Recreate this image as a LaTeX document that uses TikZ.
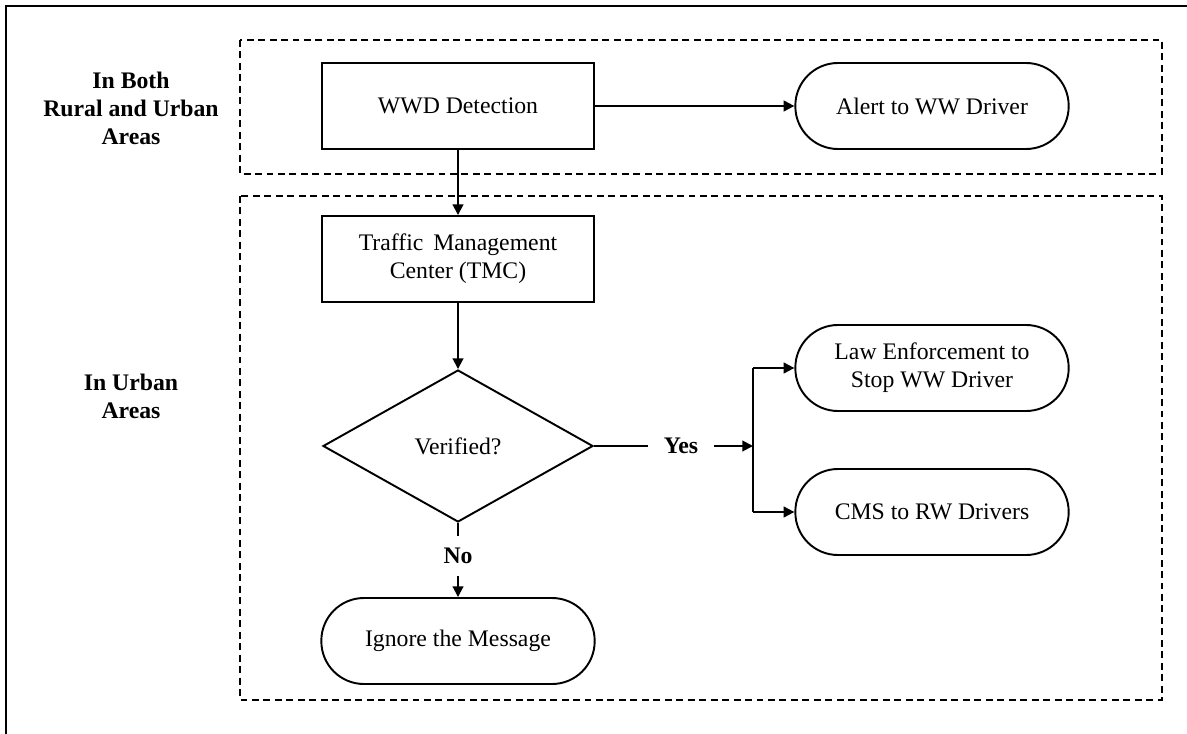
\documentclass[tikz,border=0pt]{standalone}
\usepackage{fontspec}
\setmainfont{Liberation Serif}
\usetikzlibrary{shapes.geometric,arrows.meta}

\tikzset{
  base/.style={draw=black, line width=1.45pt, align=center, inner sep=0pt,
               font=\fontsize{17.8}{21}\selectfont},
  procbox/.style={base, rectangle, minimum width=204pt, minimum height=64.5pt},
  termbox/.style={base, rectangle, rounded corners=32pt, minimum width=205pt, minimum height=64.5pt},
  decide/.style={base, diamond, minimum width=202.5pt, minimum height=114pt},
  zone/.style={draw=black, line width=1.5pt, dash pattern=on 5.2pt off 3.4pt},
  side/.style={font=\fontsize{17.8}{21}\selectfont\bfseries, align=center},
  tag/.style={font=\fontsize{17.8}{21}\selectfont\bfseries, inner sep=0pt},
  flow/.style={line width=1.45pt, -{Triangle[length=8pt,width=8pt]}},
  plain/.style={line width=1.45pt}
}

\begin{document}
\begin{tikzpicture}[x=0.75pt, y=-0.75pt]
  \useasboundingbox[fill=white] (0,0) rectangle (1187,734);

  % frame edges
  \draw[line width=2pt] (6,734) -- (6,6) -- (1187,6);

  % zones
  \draw[zone] (240,40) rectangle (1162,174);
  \draw[zone] (240,196) rectangle (1162,700);

  % zone labels
  \node[side] (lblboth) at (131,108) {In Both\\Rural and Urban\\Areas};
  \node[side] (lblurban) at (131,396) {In Urban\\Areas};

  % steps
  \node[procbox] (detect) at (458,106) {WWD Detection};
  \node[termbox] (alert) at (932,106) {Alert to WW Driver};
  \node[procbox] (tmc) at (458,259) {Traffic\, Management\\Center (TMC)};
  \node[decide] (verify) at (458,446) {Verified?};
  \node[termbox] (law) at (932,368) {Law Enforcement to\\Stop WW Driver};
  \node[termbox] (cms) at (932,512) {CMS to RW Drivers};
  \node[termbox] (ignore) at (458,641) {Ignore the Message};

  % branch labels
  \node[tag] (yes) at (681,446) {Yes};
  \node[tag] (no) at (458,556) {No};

  \coordinate (split) at (753,446);
  \coordinate (splittop) at (753,368);
  \coordinate (splitbot) at (753,512);

  % connectors
  \draw[flow] (detect.east) -- (alert.west);
  \draw[flow] (detect.south) -- (tmc.north);
  \draw[flow] (tmc.south) -- (verify.north);
  \draw[plain] (verify.east) -- ([xshift=-12pt]yes.west);
  \draw[flow] ([xshift=12pt]yes.east) -- (split);
  \draw[plain] (splittop) -- (splitbot);
  \draw[flow] (splittop) -- (law.west);
  \draw[flow] (splitbot) -- (cms.west);
  \draw[plain] (verify.south) -- ([yshift=9pt]no.north);
  \draw[flow] ([yshift=-9pt]no.south) -- (ignore.north);
\end{tikzpicture}
\end{document}
